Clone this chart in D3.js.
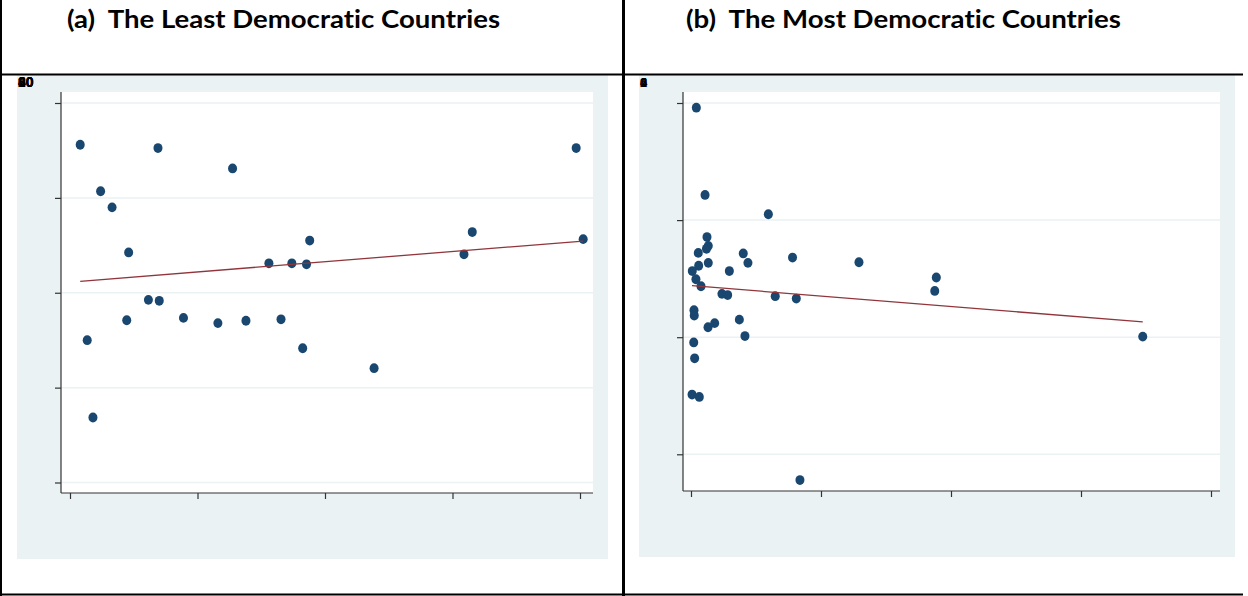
<!DOCTYPE html>
<html>
<head>
<meta charset="utf-8">
<script src="https://cdn.jsdelivr.net/npm/d3@7"></script>
<style>
    body { margin: 0; background: #fff; }
    .title { font-family: Lato, "Open Sans", sans-serif; font-weight: bold; font-size: 25px; white-space: pre; fill: #000; font-variant-ligatures: none; }
    .tickLabel { font-family: "Liberation Sans", Arial, sans-serif; font-weight: bold; font-size: 14px; fill: #000; }
    .axis path.domain { display: none; }
    .axis line { stroke: #333; stroke-width: 1.2; }
</style>
</head>
<body>
<svg id="chart" width="1248" height="596"></svg>
<script>
// (a) least democratic countries
var leastX = [0.16, 0.27, 0.36, 0.48, 0.66, 0.89, 0.92, 1.23, 1.38, 1.40, 1.78, 2.32, 2.55,
    2.76, 3.12, 3.31, 3.48, 3.65, 3.71, 3.76, 4.77, 6.18, 6.31, 7.94, 8.05]
var leastY = [71.2, 30.0, 13.7, 61.4, 58.0, 34.2, 48.5, 38.5, 70.5, 38.3, 34.7, 33.6, 66.2,
    34.1, 46.2, 34.4, 46.2, 28.3, 46.0, 51.0, 24.1, 48.1, 52.8, 70.5, 51.3]
var leastFitX = [0.16, 8.05]
var leastFitY = [42.4, 50.9]
var leastXTicks = [0, 2, 4, 6, 8]
var leastYTicks = [0, 20, 40, 60, 80]

// (b) most democratic countries
var mostX = [0.41, 1.08, 5.95, 1.23, 1.33, 1.19, 0.56, 4.02, 7.81, 0.59, 1.33, 4.38, 12.92,
    0.10, 2.95, 0.38, 0.77, 2.38, 2.82, 6.48, 8.10, 18.87, 18.75, 0.23, 0.25, 1.31, 1.82,
    3.72, 4.15, 0.21, 0.28, 0.08, 0.64, 8.38, 34.75]
var mostY = [5.92, 4.43, 4.10, 3.71, 3.56, 3.51, 3.44, 3.43, 3.36, 3.22, 3.27, 3.27, 3.28,
    3.13, 3.13, 2.99, 2.87, 2.74, 2.72, 2.70, 2.66, 3.02, 2.79, 2.46, 2.37, 2.17, 2.24,
    2.30, 2.02, 1.91, 1.64, 1.02, 0.98, -0.44, 2.01]
var mostFitX = [0.08, 34.75]
var mostFitY = [2.88, 2.26]
var mostXTicks = [0, 10, 20, 30, 40]
var mostYTicks = [0, 2, 4, 6]

var svg = d3.select("#chart")

/**
 * draws one Stata-like panel: grey frame, white plot region, grid, ticks, dots, fit line
 */
function drawPanel(p) {
    var g = svg.append("g")

    g.append("rect")
        .attr("x", p.bg[0]).attr("y", p.bg[1])
        .attr("width", p.bg[2] - p.bg[0]).attr("height", p.bg[3] - p.bg[1])
        .attr("fill", "#eaf2f3")

    g.append("rect")
        .attr("x", p.plot[0]).attr("y", p.plot[1])
        .attr("width", p.plot[2] - p.plot[0]).attr("height", p.plot[3] - p.plot[1])
        .attr("fill", "#fff")

    var x = d3.scaleLinear()
        .domain([p.xTicks[0], p.xTicks[p.xTicks.length - 1]])
        .range(p.xRange)
    var y = d3.scaleLinear()
        .domain([p.yTicks[0], p.yTicks[p.yTicks.length - 1]])
        .range(p.yRange)

    // grid
    g.selectAll(".grid")
        .data(p.yTicks)
        .enter()
        .append("line")
        .attr("class", "grid")
        .attr("x1", p.plot[0]).attr("x2", p.plot[2])
        .attr("y1", function (d) { return y(d) })
        .attr("y2", function (d) { return y(d) })
        .attr("stroke", "#eaf2f3")
        .attr("stroke-width", 1.5)

    // axes
    g.append("g")
        .attr("class", "axis")
        .attr("transform", "translate(0," + p.plot[3] + ")")
        .call(d3.axisBottom(x).tickValues(p.xTicks).tickSize(6).tickFormat(""))
    g.append("g")
        .attr("class", "axis")
        .attr("transform", "translate(" + p.plot[0] + ",0)")
        .call(d3.axisLeft(y).tickValues(p.yTicks).tickSize(6).tickFormat(""))

    g.append("line")
        .attr("x1", p.plot[0]).attr("x2", p.plot[2])
        .attr("y1", p.plot[3]).attr("y2", p.plot[3])
        .attr("stroke", "#333").attr("stroke-width", 1.2)
    g.append("line")
        .attr("x1", p.plot[0]).attr("x2", p.plot[0])
        .attr("y1", p.plot[1]).attr("y2", p.plot[3])
        .attr("stroke", "#333").attr("stroke-width", 1.2)

    // dots
    g.selectAll(".dot")
        .data(p.xs.map(function (v, i) { return [v, p.ys[i]] }))
        .enter()
        .append("ellipse")
        .attr("class", "dot")
        .attr("cx", function (d) { return x(d[0]) })
        .attr("cy", function (d) { return y(d[1]) })
        .attr("rx", 4.5)
        .attr("ry", 4.9)
        .attr("fill", "#1a476f")

    // fitted line
    var line = d3.line()
        .x(function (d) { return x(d[0]) })
        .y(function (d) { return y(d[1]) })
    g.append("path")
        .attr("d", line(p.fitX.map(function (v, i) { return [v, p.fitY[i]] })))
        .attr("fill", "none")
        .attr("stroke", "#90353b")
        .attr("stroke-width", 1.3)

    // tick labels all collapsed onto one spot, as in the source
    g.selectAll(".tickLabel")
        .data(p.yTicks)
        .enter()
        .append("text")
        .attr("class", "tickLabel")
        .attr("x", p.labelPos[0])
        .attr("y", p.labelPos[1])
        .style("font-size", p.labelSize + "px")
        .text(function (d) { return d })

    // title
    svg.append("text")
        .attr("class", "title")
        .attr("x", p.titlePos[0])
        .attr("y", p.titlePos[1])
        .attr("textLength", p.titleWidth)
        .attr("lengthAdjust", "spacingAndGlyphs")
        .text(p.title)
}

drawPanel({
    title: "(a)  The Least Democratic Countries",
    titlePos: [67, 28], titleWidth: 433,
    bg: [17, 75, 608, 559],
    plot: [61, 92, 593, 493],
    xRange: [70, 580], yRange: [482.5, 103],
    xTicks: leastXTicks, yTicks: leastYTicks,
    xs: leastX, ys: leastY, fitX: leastFitX, fitY: leastFitY,
    labelPos: [18, 87], labelSize: 14
})

drawPanel({
    title: "(b)  The Most Democratic Countries",
    titlePos: [686, 28], titleWidth: 435,
    bg: [639, 75, 1235, 557],
    plot: [683, 92, 1220, 491],
    xRange: [691, 1211], yRange: [454.3, 103],
    xTicks: mostXTicks, yTicks: mostYTicks,
    xs: mostX, ys: mostY, fitX: mostFitX, fitY: mostFitY,
    labelPos: [640, 87], labelSize: 13
})

// table rules
var rules = [
    [1, 0, 1, 596, 2],
    [623.5, 0, 623.5, 596, 3],
    [0, 74.5, 1243, 74.5, 2],
    [0, 594.5, 1243, 594.5, 2]
]
svg.selectAll(".rule")
    .data(rules)
    .enter()
    .append("line")
    .attr("class", "rule")
    .attr("x1", function (d) { return d[0] })
    .attr("y1", function (d) { return d[1] })
    .attr("x2", function (d) { return d[2] })
    .attr("y2", function (d) { return d[3] })
    .attr("stroke", "#000")
    .attr("stroke-width", function (d) { return d[4] })
</script>
</body>
</html>
